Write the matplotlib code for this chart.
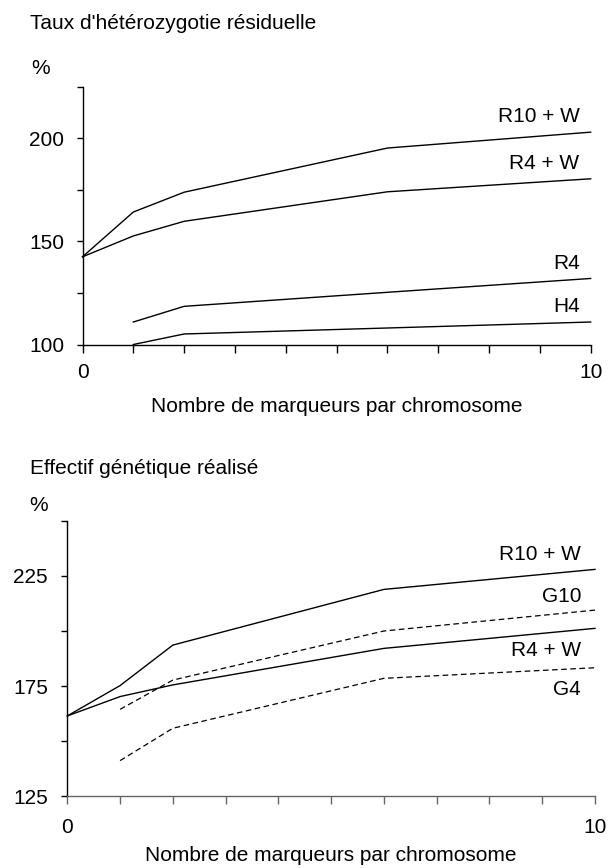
import matplotlib
matplotlib.use('Agg')
import matplotlib.pyplot as plt

plt.rcParams['font.family'] = ['Liberation Sans', 'DejaVu Sans']

# --- data: top panel (taux d'heterozygotie residuelle)
het_names = ['R10 + W', 'R4 + W', 'R4', 'H4']
het_x = [[0, 1, 2, 6, 10], [0, 1, 2, 6, 10], [1, 2, 6, 10], [1, 2, 6, 10]]
het_y = [[142.5, 164.2, 173.8, 195.2, 202.9],
         [142.5, 152.6, 159.7, 174.0, 180.3],
         [110.9, 118.5, 125.3, 132.0],
         [100.0, 105.1, 108.0, 110.9]]
het_yticks = [100, 125, 150, 175, 200, 225]
het_ylabels = ['100', '', '150', '', '200', '']

# --- data: bottom panel (effectif genetique realise)
eff_names = ['R10 + W', 'G10', 'R4 + W', 'G4']
eff_x = [[0, 1, 2, 6, 10], [1, 2, 6, 10], [0, 1, 2, 6, 10], [1, 2, 6, 10]]
eff_y = [[161.4, 175.2, 193.6, 218.9, 228.0],
         [164.4, 177.7, 200.0, 209.5],
         [161.4, 170.2, 175.5, 192.1, 201.2],
         [141.1, 155.8, 178.5, 183.3]]
eff_dashed = [False, True, False, True]
eff_yticks = [125, 150, 175, 200, 225, 250]
eff_ylabels = ['125', '', '175', '', '225', '']

xticks = list(range(11))
xlabels = ['0'] + [''] * 9 + ['10']

fs = 15
fig = plt.figure(figsize=(6.08, 8.68), dpi=100)


def style_axes(ax, yticks, ylabels, xpad, ypad, xcolor):
    ax.set_xlim(0, 10)
    ax.set_ylim(yticks[0], yticks[-1])
    ax.spines['top'].set_visible(False)
    ax.spines['right'].set_visible(False)
    ax.spines['left'].set_linewidth(1.0)
    ax.spines['bottom'].set_linewidth(1.0)
    ax.spines['bottom'].set_color(xcolor)
    ax.set_xticks(xticks, xlabels)
    ax.set_yticks(yticks, ylabels)
    ax.tick_params(axis='x', direction='out', length=5.5, width=1.0,
                   pad=xpad, labelsize=fs, color=xcolor)
    ax.tick_params(axis='y', direction='out', length=4.5, width=1.0,
                   pad=ypad, labelsize=fs)
    ax.set_xlabel('Nombre de marqueurs par chromosome', fontsize=fs)
    for s in ax.spines.values():
        s.set_clip_on(False)


# top panel
ax1 = fig.add_axes([0.1357, 0.6031, 0.8358, 0.2972])
het_off = [11, 11, 11, 11]
for name, xs, ys, dy in zip(het_names, het_x, het_y, het_off):
    ax1.plot(xs, ys, color='black', lw=1.0, clip_on=False)
    ax1.annotate(name, xy=(xs[-1], ys[-1]), xytext=(-8, dy),
                 textcoords='offset points', ha='right', va='center',
                 fontsize=fs)
style_axes(ax1, het_yticks, het_ylabels, 8.0, 8.5, 'black')
ax1.xaxis.set_label_coords(0.5, -0.205)
fig.text(0.049, 0.973, "Taux d'hétérozygotie résiduelle", fontsize=fs,
         va='center', ha='left')
fig.text(0.051, 0.921, '%', fontsize=fs, va='center', ha='left')

# bottom panel
ax2 = fig.add_axes([0.1107, 0.0829, 0.8679, 0.3169])
eff_off = [11, 10, -16, -15.5]
for name, xs, ys, dash, dy in zip(eff_names, eff_x, eff_y, eff_dashed, eff_off):
    if dash:
        ax2.plot(xs, ys, color='black', lw=0.9, dashes=(4.5, 2.8),
                 clip_on=False)
    else:
        ax2.plot(xs, ys, color='black', lw=1.0, clip_on=False)
    ax2.annotate(name, xy=(xs[-1], ys[-1]), xytext=(-10, dy),
                 textcoords='offset points', ha='right', va='center',
                 fontsize=fs)
style_axes(ax2, eff_yticks, eff_ylabels, 10.0, 9.5, '#666666')
ax2.xaxis.set_label_coords(0.5, -0.18)
fig.text(0.049, 0.4605, 'Effectif génétique réalisé', fontsize=fs,
         va='center', ha='left')
fig.text(0.048, 0.418, '%', fontsize=fs, va='center', ha='left')

fig.savefig('out.png', dpi=100)
